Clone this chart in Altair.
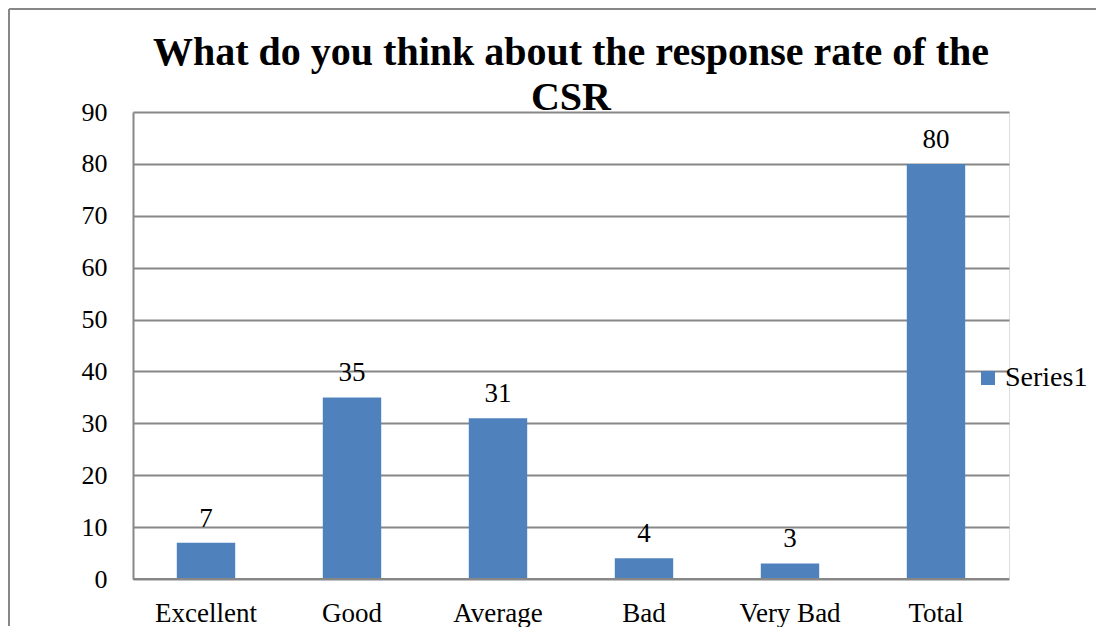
import altair as alt
import pandas as pd

categories = ["Excellent", "Good", "Average", "Bad", "Very Bad", "Total"]
values = [7, 35, 31, 4, 3, 80]
series = ["Series1"] * len(categories)
y_ticks = [0, 10, 20, 30, 40, 50, 60, 70, 80, 90]

df = pd.DataFrame({"category": categories, "value": values, "series": series})

FONT = "Liberation Serif"
BLUE = "#4F81BD"
GRID = "#878787"

base = alt.Chart(df).encode(
    x=alt.X("category:N", sort=categories, title=None,
            scale=alt.Scale(paddingInner=0.6, paddingOuter=0.3),
            axis=alt.Axis(labelAngle=0, ticks=False, domain=False, grid=False,
                          labelFont=FONT, labelFontSize=27, labelColor="#000000",
                          labelBaseline="alphabetic", labelPadding=42)),
)

bars = base.mark_bar(color=BLUE).encode(
    y=alt.Y("value:Q", title=None,
            scale=alt.Scale(domain=[0, 90], nice=False),
            axis=alt.Axis(values=y_ticks, ticks=False, domain=True, domainColor=GRID,
                          domainWidth=2, grid=True, gridColor=GRID, gridWidth=2,
                          labelFont=FONT, labelFontSize=26, labelColor="#000000",
                          labelPadding=26)),
    color=alt.Color("series:N", title=None,
                    scale=alt.Scale(range=[BLUE]),
                    legend=alt.Legend(orient="none", legendX=841, legendY=252,
                                      symbolType="square", symbolSize=196,
                                      symbolStrokeWidth=0, labelFont=FONT,
                                      labelFontSize=28, labelColor="#000000",
                                      labelOffset=3, padding=0)),
)

labels = base.mark_text(font=FONT, fontSize=27, color="#000000",
                        baseline="alphabetic", dy=-16).encode(
    y=alt.Y("value:Q"),
    text=alt.Text("value:Q"),
)

zero_line = alt.Chart(df).mark_rule(color=GRID, strokeWidth=2).encode(
    y=alt.datum(0)
)

frame_left = alt.Chart(df).mark_rule(color=GRID, strokeWidth=2).encode(
    x=alt.value(-124), y=alt.value(-103), y2=alt.value(514)
)
frame_top = alt.Chart(df).mark_rule(color=GRID, strokeWidth=2).encode(
    x=alt.value(-124), x2=alt.value(963), y=alt.value(-103)
)

chart = alt.layer(bars, labels, zero_line, frame_left, frame_top).properties(
    width=876,
    height=467,
    title=alt.TitleParams(
        text=["What do you think about the response rate of the", "CSR"],
        font=FONT, fontSize=40, fontWeight="bold", color="#000000",
        lineHeight=45, anchor="middle", baseline="bottom", offset=-150,
    ),
    autosize=alt.AutoSizeParams(type="none"),
    padding={"left": 125, "top": 104, "right": 87, "bottom": 48},
).configure_view(stroke=None).configure(background="#ffffff")

chart.save("out.html", embed_options={"renderer": "svg", "actions": False})
